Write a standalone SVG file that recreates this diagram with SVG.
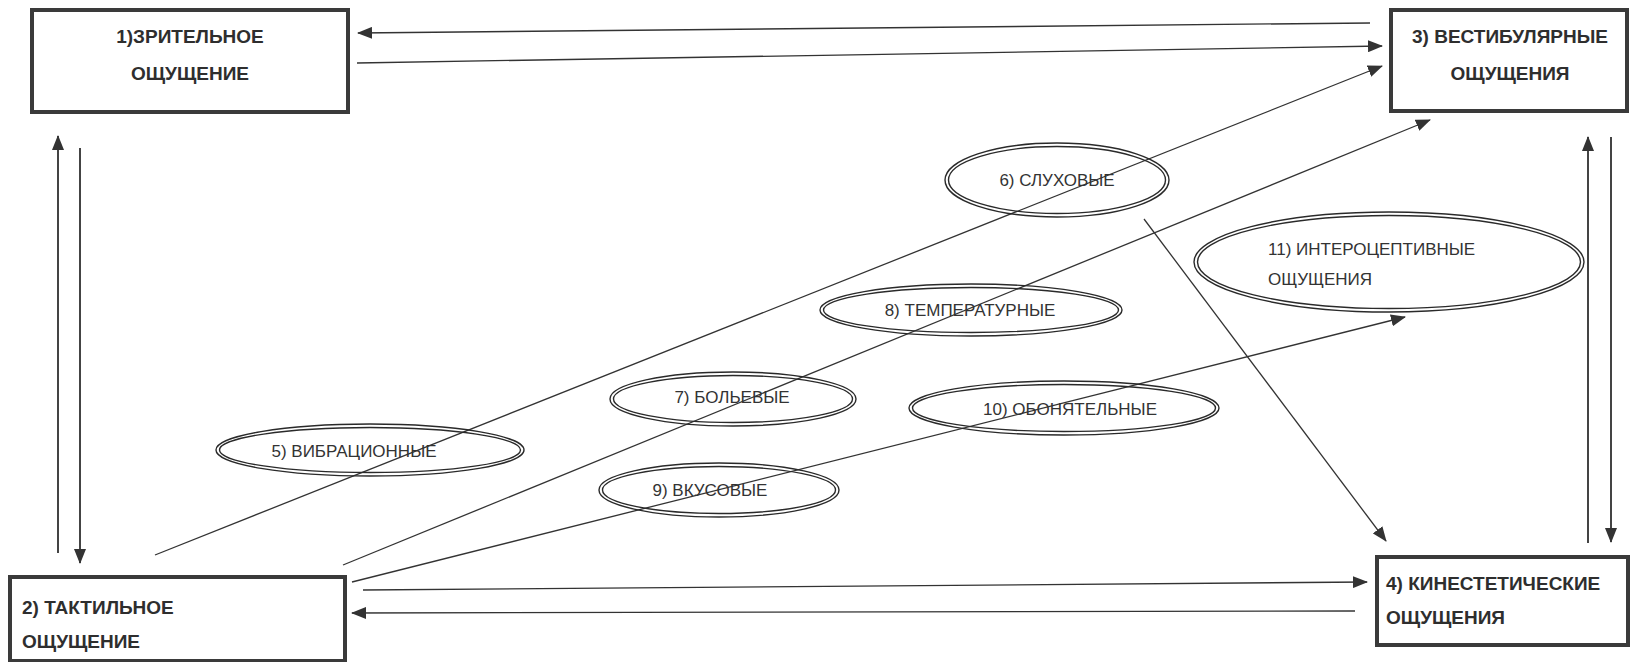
<svg xmlns="http://www.w3.org/2000/svg" width="1633" height="662" viewBox="0 0 1633 662">
<style>
.box{fill:#fff;stroke:#3a3a3a;stroke-width:4}
.bt{font-family:"Liberation Sans",Arial,sans-serif;font-weight:bold;font-size:19px;fill:#2e2e2e}
.et{font-family:"Liberation Sans",Arial,sans-serif;font-size:17px;fill:#333}
.eo{fill:none;stroke:#2a2a2a;stroke-width:1.4}
.ln{fill:none;stroke:#333;stroke-width:1.3}
.vl{fill:none;stroke:#444;stroke-width:2}
</style>
<defs>
<marker id="ah" markerUnits="userSpaceOnUse" markerWidth="15" markerHeight="12" refX="14" refY="6" orient="auto">
<path d="M0,0 L15,6 L0,12 Z" fill="#333"/>
</marker>
</defs>
<rect width="1633" height="662" fill="#fff"/>

<g id="connectors">
<line class="ln" x1="1370" y1="23" x2="358" y2="33" marker-end="url(#ah)"/>
<line class="ln" x1="357" y1="63" x2="1382" y2="46" marker-end="url(#ah)"/>
<line class="ln" x1="155" y1="555" x2="1382" y2="66" marker-end="url(#ah)"/>
<line class="ln" x1="343" y1="565" x2="1430" y2="120" marker-end="url(#ah)"/>
<line class="ln" x1="352" y1="582" x2="1405" y2="317" marker-end="url(#ah)"/>
<line class="ln" x1="1144" y1="219" x2="1386" y2="541" marker-end="url(#ah)"/>
<line class="ln" x1="363" y1="590" x2="1367" y2="582" marker-end="url(#ah)"/>
<line class="ln" x1="1355" y1="611" x2="352" y2="613" marker-end="url(#ah)"/>
<line class="vl" x1="58" y1="553" x2="58" y2="136" marker-end="url(#ah)"/>
<line class="vl" x1="80" y1="148" x2="80" y2="563" marker-end="url(#ah)"/>
<line class="vl" x1="1588" y1="543" x2="1588" y2="137" marker-end="url(#ah)"/>
<line class="vl" x1="1611" y1="137" x2="1611" y2="542" marker-end="url(#ah)"/>
</g>

<g id="node1">
<rect class="box" x="32" y="10" width="316" height="102"/>
<text class="bt" x="190" y="43" text-anchor="middle">1)ЗРИТЕЛЬНОЕ</text>
<text class="bt" x="190" y="80" text-anchor="middle">ОЩУЩЕНИЕ</text>
</g>

<g id="node3">
<rect class="box" x="1391" y="10" width="236" height="101"/>
<text class="bt" x="1510" y="43" text-anchor="middle">3) ВЕСТИБУЛЯРНЫЕ</text>
<text class="bt" x="1510" y="80" text-anchor="middle">ОЩУЩЕНИЯ</text>
</g>

<g id="node2">
<rect class="box" x="10" y="577" width="335" height="84"/>
<text class="bt" x="22" y="614">2) ТАКТИЛЬНОЕ</text>
<text class="bt" x="22" y="648">ОЩУЩЕНИЕ</text>
</g>

<g id="node4">
<rect class="box" x="1377" y="557" width="251" height="88"/>
<text class="bt" x="1386" y="590">4) КИНЕСТЕТИЧЕСКИЕ</text>
<text class="bt" x="1386" y="624">ОЩУЩЕНИЯ</text>
</g>

<g id="node6">
<ellipse class="eo" cx="1057" cy="180" rx="112" ry="37"/>
<ellipse class="eo" cx="1057" cy="180" rx="108.5" ry="33.5"/>
<text class="et" x="1057" y="186" text-anchor="middle">6) СЛУХОВЫЕ</text>
</g>

<g id="node11">
<ellipse class="eo" cx="1389" cy="262" rx="195" ry="50"/>
<ellipse class="eo" cx="1389" cy="262" rx="191.5" ry="46.5"/>
<text class="et" x="1268" y="255">11) ИНТЕРОЦЕПТИВНЫЕ</text>
<text class="et" x="1268" y="285">ОЩУЩЕНИЯ</text>
</g>

<g id="node8">
<ellipse class="eo" cx="971" cy="310" rx="151" ry="26"/>
<ellipse class="eo" cx="971" cy="310" rx="147.5" ry="22.5"/>
<text class="et" x="970" y="316" text-anchor="middle">8) ТЕМПЕРАТУРНЫЕ</text>
</g>

<g id="node7">
<ellipse class="eo" cx="733" cy="399" rx="123" ry="27"/>
<ellipse class="eo" cx="733" cy="399" rx="119.5" ry="23.5"/>
<text class="et" x="732" y="403" text-anchor="middle">7) БОЛЬЕВЫЕ</text>
</g>

<g id="node10">
<ellipse class="eo" cx="1064" cy="408" rx="155" ry="27"/>
<ellipse class="eo" cx="1064" cy="408" rx="151.5" ry="23.5"/>
<text class="et" x="1070" y="415" text-anchor="middle">10) ОБОНЯТЕЛЬНЫЕ</text>
</g>

<g id="node5">
<ellipse class="eo" cx="370" cy="450" rx="154" ry="26"/>
<ellipse class="eo" cx="370" cy="450" rx="150.5" ry="22.5"/>
<text class="et" x="354" y="457" text-anchor="middle">5) ВИБРАЦИОННЫЕ</text>
</g>

<g id="node9">
<ellipse class="eo" cx="719" cy="490" rx="120" ry="27"/>
<ellipse class="eo" cx="719" cy="490" rx="116.5" ry="23.5"/>
<text class="et" x="710" y="496" text-anchor="middle">9) ВКУСОВЫЕ</text>
</g>
</svg>
